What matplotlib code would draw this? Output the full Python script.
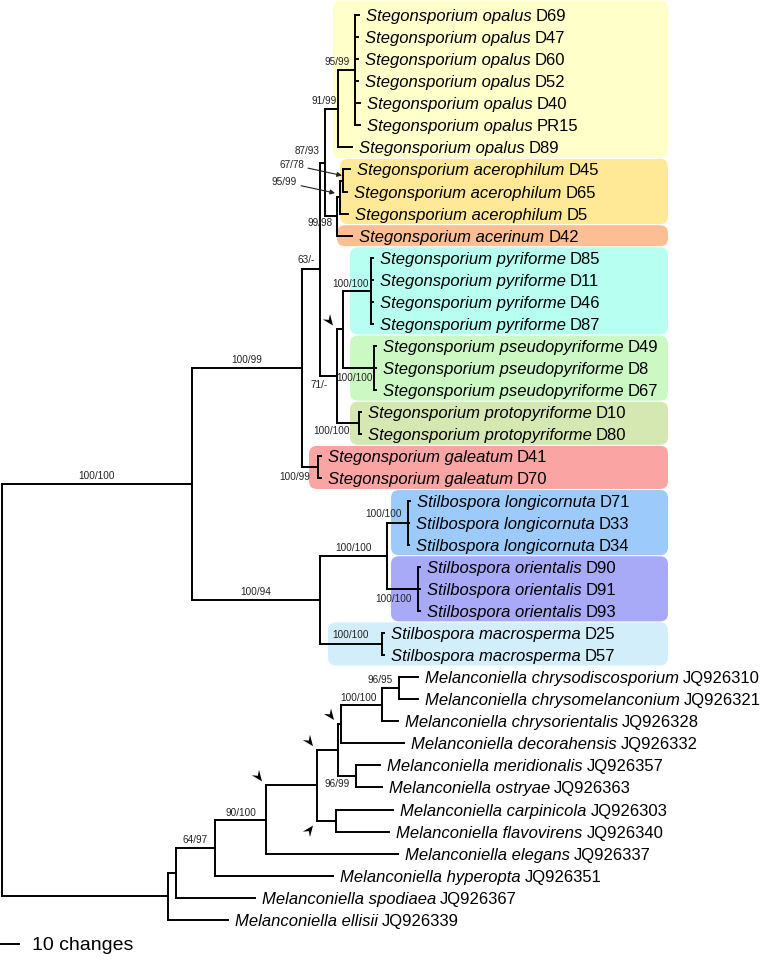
import matplotlib
matplotlib.use("Agg")
import matplotlib.pyplot as plt
from matplotlib.patches import FancyBboxPatch, Polygon
import numpy as np

plt.rcParams['font.family'] = ['Liberation Sans', 'DejaVu Sans']

# ---------------- tips, top to bottom ----------------
species = [
    "Stegonsporium opalus", "Stegonsporium opalus", "Stegonsporium opalus",
    "Stegonsporium opalus", "Stegonsporium opalus", "Stegonsporium opalus",
    "Stegonsporium opalus",
    "Stegonsporium acerophilum", "Stegonsporium acerophilum", "Stegonsporium acerophilum",
    "Stegonsporium acerinum",
    "Stegonsporium pyriforme", "Stegonsporium pyriforme", "Stegonsporium pyriforme",
    "Stegonsporium pyriforme",
    "Stegonsporium pseudopyriforme", "Stegonsporium pseudopyriforme",
    "Stegonsporium pseudopyriforme",
    "Stegonsporium protopyriforme", "Stegonsporium protopyriforme",
    "Stegonsporium galeatum", "Stegonsporium galeatum",
    "Stilbospora longicornuta", "Stilbospora longicornuta", "Stilbospora longicornuta",
    "Stilbospora orientalis", "Stilbospora orientalis", "Stilbospora orientalis",
    "Stilbospora macrosperma", "Stilbospora macrosperma",
    "Melanconiella chrysodiscosporium", "Melanconiella chrysomelanconium",
    "Melanconiella chrysorientalis", "Melanconiella decorahensis",
    "Melanconiella meridionalis", "Melanconiella ostryae",
    "Melanconiella carpinicola", "Melanconiella flavovirens",
    "Melanconiella elegans", "Melanconiella hyperopta",
    "Melanconiella spodiaea", "Melanconiella ellisii",
]
strains = [
    "D69", "D47", "D60", "D52", "D40", "PR15", "D89",
    "D45", "D65", "D5", "D42",
    "D85", "D11", "D46", "D87",
    "D49", "D8", "D67",
    "D10", "D80",
    "D41", "D70",
    "D71", "D33", "D34",
    "D90", "D91", "D93",
    "D25", "D57",
    "JQ926310", "JQ926321", "JQ926328", "JQ926332", "JQ926357", "JQ926363",
    "JQ926303", "JQ926340", "JQ926337", "JQ926351", "JQ926367", "JQ926339",
]
# horizontal position of each tip
tip_x = [359, 358, 358, 358, 360, 360, 352,
         350, 347, 348, 352,
         373, 373, 373, 373,
         376, 376, 376,
         361, 361,
         321, 321,
         410, 409, 409,
         420, 420, 420,
         384, 384,
         418, 418, 398, 404, 380, 382, 393, 389, 398, 333, 255, 228]

# internal nodes: name -> (children, x position of the node)
nodes = {
    "op6": ([0, 1, 2, 3, 4, 5], 355),
    "op": (["op6", 6], 338),
    "acX": ([7, 8], 343),
    "ac": (["acX", 9], 340),
    "acc": (["ac", 10], 337),
    "opac": (["op", "acc"], 325),
    "pyr": ([11, 12, 13, 14], 371),
    "pse": ([15, 16, 17], 374),
    "pp": (["pyr", "pse"], 343),
    "pro": ([18, 19], 359),
    "ppp": (["pp", "pro"], 337),
    "n63": (["opac", "ppp"], 320),
    "gal": ([20, 21], 318),
    "steg": (["n63", "gal"], 302),
    "lon": ([22, 23, 24], 408),
    "ori": ([25, 26, 27], 418),
    "lo": (["lon", "ori"], 387),
    "mac": ([28, 29], 382),
    "stil": (["lo", "mac"], 320),
    "ingroup": (["steg", "stil"], 192),
    "m1": ([30, 31], 399),
    "m2": (["m1", 32], 382),
    "m3": (["m2", 33], 341),
    "m4": ([34, 35], 356),
    "m5": (["m3", "m4"], 338),
    "m6": ([36, 37], 336),
    "m7": (["m5", "m6"], 317),
    "m8": (["m7", 38], 266),
    "m9": (["m8", 39], 215),
    "m10": (["m9", 40], 176),
    "m11": (["m10", 41], 168),
    "root": (["ingroup", "m11"], 2),
}

# support values: node, text, placement, horizontal shift, vertical shift
supports = [
    ("op6", "95/99", "above", -5, -8), ("op", "91/99", "above", -1, -8),
    ("opac", "87/93", "above", -5, -12), ("acc", "99/98", "below", -4, 7),
    ("n63", "63/-", "above", -5, -9), ("pyr", "100/100", "above", -2, -7),
    ("pse", "100/100", "below", -1, 10), ("ppp", "71/-", "below", -9, 9),
    ("pro", "100/100", "below", -9, 8), ("steg", "100/99", "mid", 0, -8),
    ("gal", "100/99", "below", -8, 10), ("ingroup", "100/100", "mid", 0, -8),
    ("lon", "100/100", "above", -6, -9), ("lo", "100/100", "mid", 0, -8),
    ("ori", "100/100", "below", -6, 10), ("stil", "100/94", "mid", 0, -8),
    ("mac", "100/100", "mid", 0, -9), ("m1", "96/95", "above", -6, -8),
    ("m2", "100/100", "above", -5, -7), ("m4", "96/99", "below", -6, 8),
    ("m8", "90/100", "mid", 0, -7), ("m9", "64/97", "mid", 0, -8),
]
# supports shown with an arrow
arrow_supports = [("acX", "67/78", -1, -5), ("ac", "95/99", -5, -4)]
# nodes marked with an arrowhead (direction of pointing)
marked = [("pp", "down"), ("m7", "down"), ("m5", "down"), ("m6", "up"), ("m3", "down")]

# coloured clade boxes: first tip, last tip, left edge, colour
boxes = [
    (0, 6, 333, "#FFFFCA"), (7, 9, 340, "#FFE896"), (10, 10, 337, "#FDBE93"),
    (11, 14, 350, "#B6FFF1"), (15, 17, 350, "#CCF8C4"), (18, 19, 350, "#D5E8B2"),
    (20, 21, 309, "#FBA4A4"), (22, 24, 391, "#9CCAFA"), (25, 27, 391, "#A8AAF8"),
    (28, 29, 328, "#D3EEFB"),
]

row0, row_step = 15, 22.07


def ypos(n):
    if isinstance(n, int):
        return row0 + row_step * n
    ch = nodes[n][0]
    ys = [ypos(c) for c in ch]
    return (min(ys) + max(ys)) / 2


def xpos(n):
    return tip_x[n] if isinstance(n, int) else nodes[n][1]


parent = {}
for name, (ch, _) in nodes.items():
    for c in ch:
        parent[c] = name

fig = plt.figure(figsize=(7.6, 9.63), dpi=100)
ax = fig.add_axes([0, 0, 1, 1])
ax.set_xlim(0, 760)
ax.set_ylim(963, 0)
ax.axis("off")

# boxes
for first, last, left, col in boxes:
    top = max(ypos(first) - 10.5, 0.5) if first else 0.5
    bot = ypos(last) + 10.5
    ax.add_patch(FancyBboxPatch((left, top), 668 - left, bot - top,
                                boxstyle="round,pad=0,rounding_size=8",
                                fc=col, ec="none", zorder=0))

# branches
lw = 1.4
for name, (ch, x) in nodes.items():
    ys = [ypos(c) for c in ch]
    ax.plot([x, x], [min(ys), max(ys)], color="black", lw=lw,
            solid_capstyle="projecting", zorder=2)
    for c, y in zip(ch, ys):
        ax.plot([x, xpos(c)], [y, y], color="black", lw=lw,
                solid_capstyle="projecting", zorder=2)

# tip labels
renderer = fig.canvas.get_renderer()
for i in range(len(species)):
    y = ypos(i)
    t = ax.text(tip_x[i] + 7, y, species[i], style="italic", fontsize=12,
                va="center_baseline", ha="left", zorder=3)
    bb = t.get_window_extent(renderer)
    ax.text(bb.x1 + 4, y, strains[i], fontsize=12, va="center_baseline",
            ha="left", zorder=3)

# support values
for n, txt, where, dx, dy in supports:
    x, y = xpos(n), ypos(n)
    if where == "mid":
        ax.text((xpos(parent[n]) + x) / 2, y + dy, txt, fontsize=7.2,
                ha="center", va="center", color="#222")
    else:
        ax.text(x + dx, y + dy, txt, fontsize=7.2, ha="right", va="center", color="#222")

for n, txt, dx, dy in arrow_supports:
    tx, ty = xpos(n) + dx, ypos(n) + dy
    ax.annotate(txt, xy=(tx, ty), xytext=(tx - 38, ty - 11), fontsize=7.2,
                ha="right", va="center", color="#222",
                arrowprops=dict(arrowstyle="-|>", lw=0.8, color="#222",
                                mutation_scale=7, shrinkA=1, shrinkB=0))

# arrowheads marking nodes
for n, d in marked:
    cx, cy = xpos(parent[n]), ypos(n)
    if d == "down":
        tip = np.array([cx - 4, cy - 4])
        u = np.array([0.6, 0.8])
    else:
        tip = np.array([cx - 4, cy + 5])
        u = np.array([0.6, -0.8])
    p = np.array([-u[1], u[0]])
    verts = [tip, tip - 11 * u + 4.5 * p, tip - 7 * u, tip - 11 * u - 4.5 * p]
    ax.add_patch(Polygon(verts, closed=True, fc="black", ec="none", zorder=4))

# scale bar
ax.plot([1, 19], [944, 944], color="black", lw=lw)
ax.text(32, 944, "10 changes", fontsize=14, va="center_baseline", ha="left")

fig.savefig("out.png", dpi=100)
